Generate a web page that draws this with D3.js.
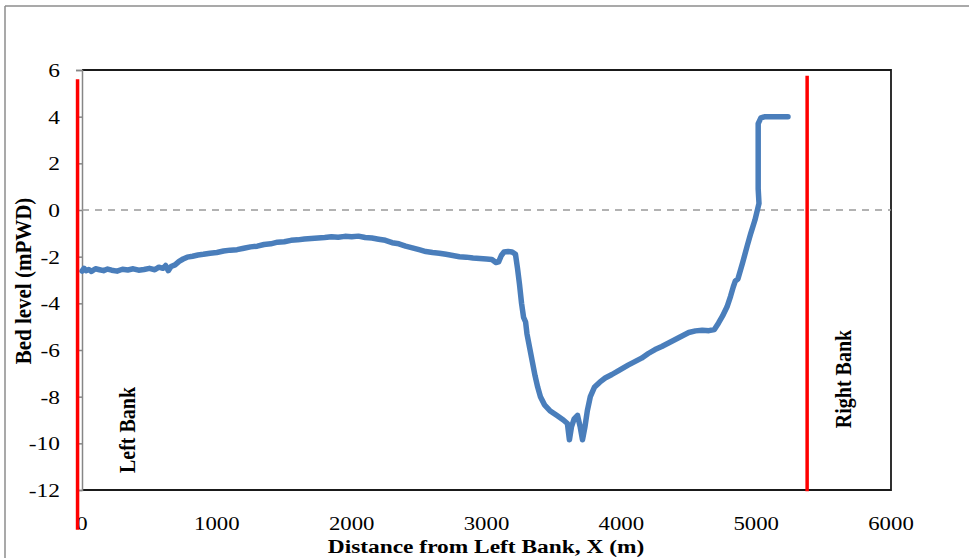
<!DOCTYPE html>
<html>
<head>
<meta charset="utf-8">
<script src="https://cdn.jsdelivr.net/npm/d3@7"></script>
<style>
  html, body { margin: 0; padding: 0; background: #fff; }
  svg { display: block; }
  text { font-family: "Liberation Serif", "Times New Roman", serif; fill: #000; }
</style>
</head>
<body>
<svg id="chart" width="969" height="558"></svg>
<script>
// ---- Data ----
const distance = [0,15,30,50,70,100,130,160,190,220,260,300,340,380,420,460,500,540,570,600,620,640,660,690,720,750,780,820,860,900,950,1000,1050,1100,1150,1200,1250,1300,1350,1400,1450,1500,1550,1600,1650,1700,1750,1800,1850,1900,1950,2000,2050,2100,2150,2200,2250,2300,2350,2400,2450,2500,2550,2600,2650,2700,2750,2800,2850,2900,2950,3000,3040,3070,3090,3110,3130,3160,3190,3215,3230,3245,3260,3275,3290,3300,3320,3340,3360,3380,3400,3430,3470,3520,3570,3600,3615,3630,3650,3675,3695,3712,3730,3748,3770,3800,3840,3880,3930,3980,4050,4100,4150,4200,4250,4300,4350,4400,4450,4500,4550,4600,4650,4690,4720,4750,4784,4810,4830,4845,4865,4900,4932,4960,4991,5021,5015,5015,5035,5066,5150,5236];
const bedLevel = [-2.62,-2.5,-2.6,-2.55,-2.63,-2.52,-2.56,-2.6,-2.53,-2.58,-2.62,-2.54,-2.57,-2.52,-2.58,-2.55,-2.5,-2.56,-2.45,-2.5,-2.38,-2.6,-2.42,-2.35,-2.2,-2.1,-2.02,-1.98,-1.93,-1.9,-1.85,-1.82,-1.76,-1.72,-1.7,-1.64,-1.58,-1.55,-1.48,-1.45,-1.38,-1.36,-1.3,-1.28,-1.24,-1.22,-1.2,-1.18,-1.15,-1.17,-1.13,-1.15,-1.12,-1.18,-1.2,-1.25,-1.3,-1.4,-1.45,-1.55,-1.62,-1.7,-1.78,-1.82,-1.85,-1.9,-1.95,-2.0,-2.02,-2.06,-2.08,-2.1,-2.12,-2.25,-2.22,-1.95,-1.8,-1.78,-1.8,-1.9,-2.5,-3.2,-4.0,-4.6,-4.8,-5.3,-5.9,-6.5,-7.1,-7.6,-8.0,-8.35,-8.6,-8.8,-9.0,-9.15,-9.85,-9.3,-8.95,-8.8,-9.3,-9.85,-9.3,-8.6,-8.0,-7.6,-7.38,-7.2,-7.05,-6.88,-6.65,-6.5,-6.35,-6.15,-5.98,-5.85,-5.7,-5.55,-5.4,-5.25,-5.18,-5.15,-5.17,-5.12,-4.85,-4.55,-4.15,-3.7,-3.3,-3.05,-2.95,-2.25,-1.57,-1.0,-0.43,0.28,0.9,3.7,3.95,4.0,4.0,4.0];

const leftBankX = [-33, -33];
const leftBankY = [5.6, -13.7];
const rightBankX = [5378, 5378];
const rightBankY = [5.75, -12.05];

const xTicks = [0, 1000, 2000, 3000, 4000, 5000, 6000];
const yTicks = [6, 4, 2, 0, -2, -4, -6, -8, -10, -12];

// ---- Layout ----
const svg = d3.select("#chart");
const L = 82, R = 891, T = 70, B = 490;
const x = d3.scaleLinear().domain([0, 6000]).range([L, R]);
const y = d3.scaleLinear().domain([-12, 6]).range([B, T]);
const SX = 1.2; // horizontal stretch of text in the reference

// outer chart border (top + left)
svg.append("line").attr("x1", 5).attr("x2", 969).attr("y1", 6).attr("y2", 6)
  .attr("stroke", "#8c8c8c").attr("stroke-width", 1.5);
svg.append("line").attr("x1", 5).attr("x2", 5).attr("y1", 6).attr("y2", 558)
  .attr("stroke", "#8c8c8c").attr("stroke-width", 1.5);

// plot frame (top, right, bottom)
svg.append("path")
  .attr("d", `M${L},${T}H${R}V${B}H${L}`)
  .attr("fill", "none").attr("stroke", "#1a1a1a").attr("stroke-width", 1.8);

// y axis (gray) with outside ticks
const yAxis = d3.axisLeft(y).tickValues(yTicks).tickSize(6).tickFormat("");
const gy = svg.append("g").attr("transform", `translate(${L},0)`).call(yAxis);
gy.selectAll("path, line").attr("stroke", "#868686").attr("stroke-width", 1.5);

// y tick labels
svg.append("g").selectAll("text").data(yTicks).join("text")
  .attr("transform", d => `translate(60,${y(d) + 7}) scale(${SX},1)`)
  .attr("text-anchor", "end")
  .attr("font-size", 19.5)
  .text(d => d);

// x tick labels
svg.append("g").selectAll("text").data(xTicks).join("text")
  .attr("transform", d => `translate(${x(d)},530) scale(${SX},1)`)
  .attr("text-anchor", "middle")
  .attr("font-size", 19)
  .text(d => d);

// zero dashed line
svg.append("line")
  .attr("x1", x(0)).attr("x2", x(6000)).attr("y1", y(0)).attr("y2", y(0))
  .attr("stroke", "#999").attr("stroke-width", 1.6).attr("stroke-dasharray", "7,6");

// bed profile
const pts = distance.map((d, i) => [d, bedLevel[i]]);
const line = d3.line().x(d => x(d[0])).y(d => y(d[1]));
svg.append("path").datum(pts)
  .attr("d", line)
  .attr("fill", "none").attr("stroke", "#4a7ebb").attr("stroke-width", 5.5)
  .attr("stroke-linejoin", "round").attr("stroke-linecap", "round");

// bank lines
[[leftBankX, leftBankY], [rightBankX, rightBankY]].forEach(([bx, by]) => {
  svg.append("path").datum(bx.map((d, i) => [d, by[i]]))
    .attr("d", line)
    .attr("fill", "none").attr("stroke", "#ff0000").attr("stroke-width", 3.5);
});

// axis titles
svg.append("text")
  .attr("transform", `translate(486,553) scale(${SX},1)`)
  .attr("text-anchor", "middle").attr("font-size", 19.5).attr("font-weight", "bold")
  .text("Distance from Left Bank, X (m)");
svg.append("text")
  .attr("transform", `translate(31,281) rotate(-90) scale(1,1.12)`)
  .attr("text-anchor", "middle").attr("font-size", 21).attr("font-weight", "bold")
  .text("Bed level (mPWD)");

// bank labels
svg.append("text")
  .attr("transform", `translate(135,430) rotate(-90) scale(1,1.12)`)
  .attr("text-anchor", "middle").attr("font-size", 20).attr("font-weight", "bold")
  .text("Left Bank");
svg.append("text")
  .attr("transform", `translate(851,379) rotate(-90) scale(1,1.12)`)
  .attr("text-anchor", "middle").attr("font-size", 20).attr("font-weight", "bold")
  .text("Right Bank");
</script>
</body>
</html>
